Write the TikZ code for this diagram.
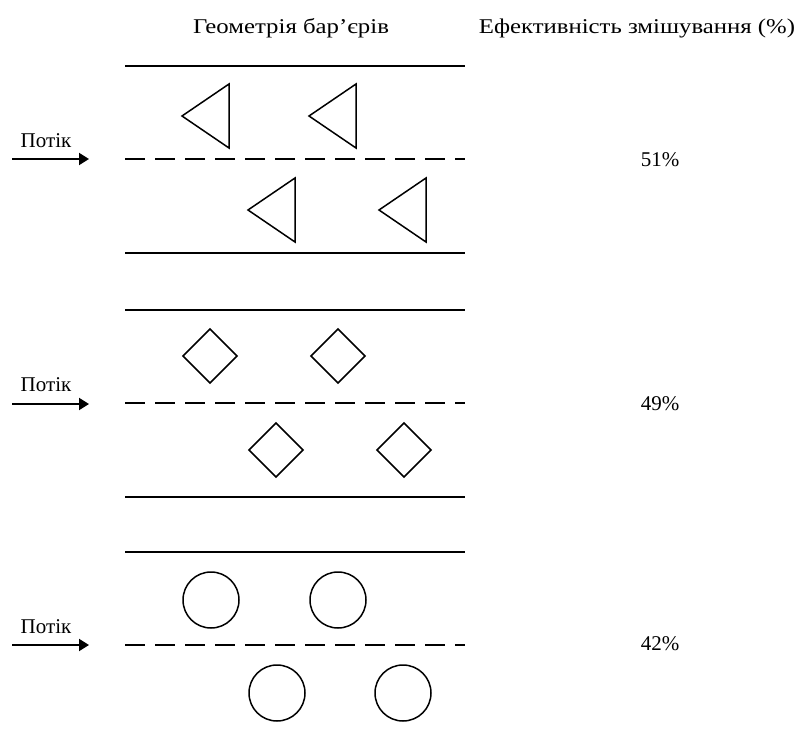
\documentclass[tikz,border=0pt]{standalone}
\usepackage{fontspec}
\setmainfont{Liberation Serif}
\newfontfamily\widefont[FakeStretch=1.18]{Liberation Serif}
\usetikzlibrary{arrows.meta}
\begin{document}
\begin{tikzpicture}[x=1pt,y=-1pt,
  wall/.style={line width=1.9pt},
  mid/.style={line width=1.9pt,dash pattern=on 20pt off 10pt},
  obst/.style={line width=1.5pt,line join=miter},
  flow/.style={line width=1.9pt,-{Triangle[length=10pt,width=12pt]}},
  lbl/.style={font=\fontsize{21}{24}\selectfont,inner sep=0pt,anchor=base},
  hdr/.style={font=\widefont\fontsize{21}{24}\selectfont,inner sep=0pt,anchor=base}]
\useasboundingbox (0,0) rectangle (798,736);
% headers
\node[hdr] (h1) at (291,34) {Геометрія бар’єрів};
\node[hdr] (h2) at (637,34) {Ефективність змішування (\%)};
% ---- panel 1: triangles
\coordinate (a1l) at (125,66); \coordinate (a1r) at (465,66);
\coordinate (a2l) at (125,159); \coordinate (a2r) at (465,159);
\coordinate (a3l) at (125,253); \coordinate (a3r) at (465,253);
\draw[wall] (a1l) -- (a1r);
\draw[mid] (a2l) -- (a2r);
\draw[wall] (a3l) -- (a3r);
\foreach \tx/\ty in {182/116,309/116,248/210,379/210}{
  \draw[obst] (\tx,\ty) -- ++(47,-32) -- ++(0,64) -- cycle;
}
\node[lbl] (p1) at (46,147) {Потік};
\coordinate (f1s) at (12,159); \coordinate (f1e) at (89,159);
\draw[flow] (f1s) -- (f1e);
\node[lbl,anchor=center] (e1) at (660,160) {51\%};
% ---- panel 2: diamonds
\coordinate (b1l) at (125,310); \coordinate (b1r) at (465,310);
\coordinate (b2l) at (125,403); \coordinate (b2r) at (465,403);
\coordinate (b3l) at (125,497); \coordinate (b3r) at (465,497);
\draw[wall] (b1l) -- (b1r);
\draw[mid] (b2l) -- (b2r);
\draw[wall] (b3l) -- (b3r);
\foreach \cx/\cy in {210/356,338/356,276/450,404/450}{
  \draw[obst] (\cx-27,\cy) -- (\cx,\cy-27) -- (\cx+27,\cy) -- (\cx,\cy+27) -- cycle;
}
\node[lbl] (p2) at (46,391) {Потік};
\coordinate (f2s) at (12,404); \coordinate (f2e) at (89,404);
\draw[flow] (f2s) -- (f2e);
\node[lbl,anchor=center] (e2) at (660,404) {49\%};
% ---- panel 3: circles
\coordinate (c1l) at (125,552); \coordinate (c1r) at (465,552);
\coordinate (c2l) at (125,645); \coordinate (c2r) at (465,645);
\draw[wall] (c1l) -- (c1r);
\draw[mid] (c2l) -- (c2r);
\foreach \cx/\cy in {211/600,338/600,277/693,403/693}{
  \draw[obst] (\cx,\cy) circle[radius=28];
}
\node[lbl] (p3) at (46,633) {Потік};
\coordinate (f3s) at (12,645); \coordinate (f3e) at (89,645);
\draw[flow] (f3s) -- (f3e);
\node[lbl,anchor=center] (e3) at (660,644) {42\%};
\end{tikzpicture}
\end{document}
